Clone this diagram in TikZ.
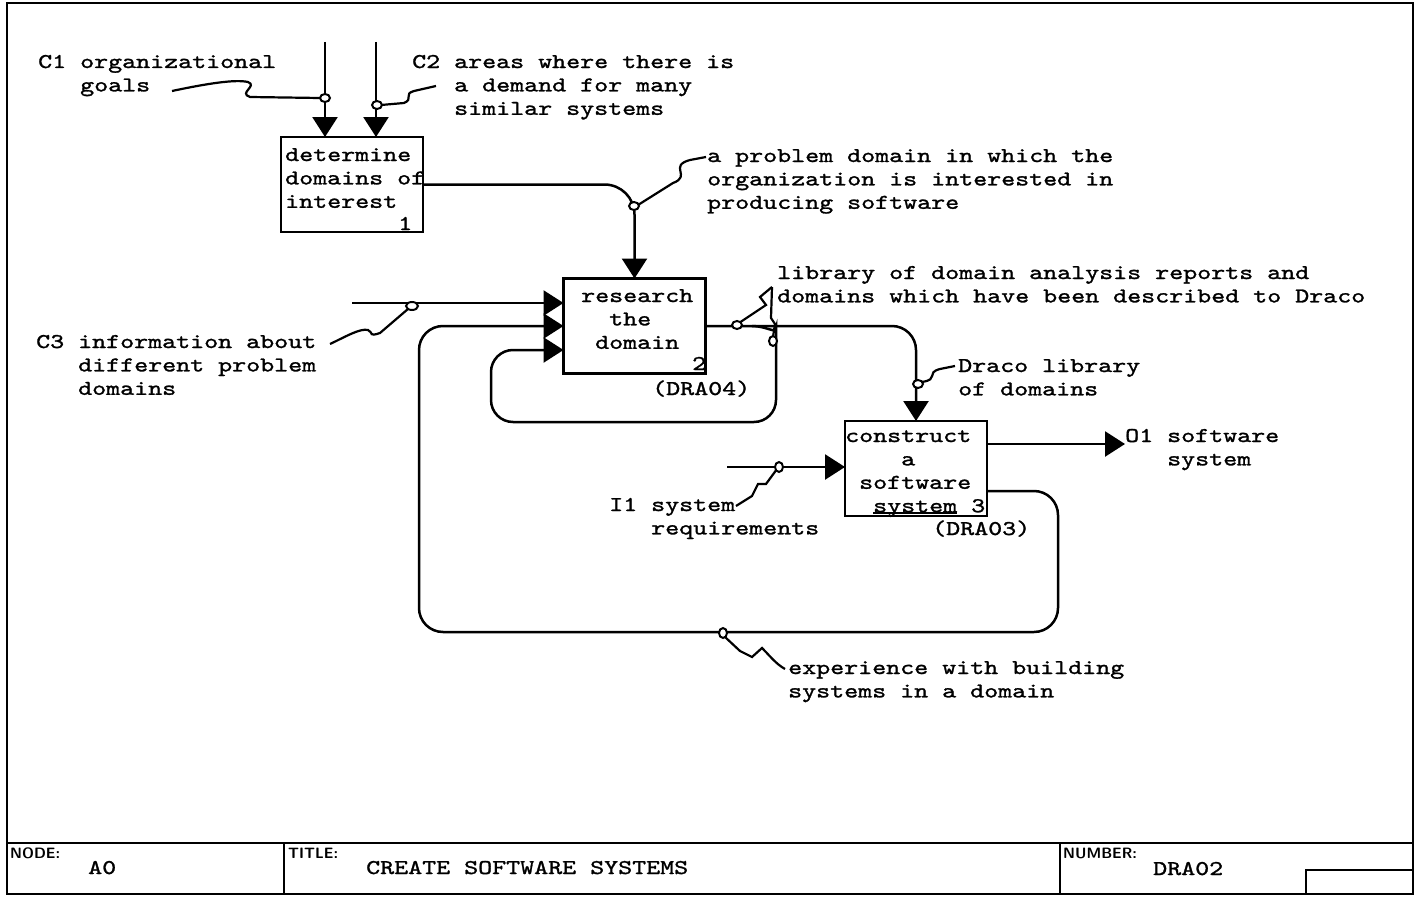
\documentclass[tikz,border=0pt]{standalone}
\usepackage{fontspec}
\usetikzlibrary{arrows.meta,calc}
\newfontfamily\twfam{lmmono10-regular.otf}[FakeStretch=1.27,FakeBold=1.3]
\newcommand\tw{\fontsize{21}{23.4}\selectfont\twfam}
\newcommand\tagfont{\fontsize{15}{15}\selectfont\sffamily\bfseries}
\newcommand\ulsys{\rlap{\rule[-1.5pt]{84pt}{1.6pt}}system}
\tikzset{
  frame/.style={line width=2pt},
  box/.style={draw, line width=2.5pt, minimum width=142pt, minimum height=95pt, inner sep=0pt, outer sep=0pt},
  flow/.style={line width=2.5pt, -{Triangle[length=20pt,width=25pt]}},
  plain/.style={line width=2.5pt},
  squig/.style={line width=2.2pt},
  ring/.style={line width=2pt, fill=white},
  lbl/.style={font=\tw, inner sep=0pt, anchor=base west, align=left},
  tagl/.style={font=\tagfont, inner sep=0pt, anchor=base west},
  num/.style={font=\tw, inner sep=0pt, anchor=base west},
}
\begin{document}
\begin{tikzpicture}[x=1pt,y=-1pt]
\fill[white] (0,0) rectangle (1417,899);
\useasboundingbox (0,0) rectangle (1417,899);
% frame and title block
\draw[frame] (7,3) rectangle (1413,894);
\draw[frame] (7,843) -- (1413,843);
\draw[frame] (284,843) -- (284,894);
\draw[frame] (1060,843) -- (1060,894);
\draw[frame] (1306,894) -- (1306,870) -- (1413,870);
\node[tagl] (tnode) at (10,858) {NODE:};
\node[lbl] (tnodev) at (88,874) {A0};
\node[tagl] (ttitle) at (288,858) {TITLE:};
\node[lbl] (ttitlev) at (366,874) {CREATE SOFTWARE SYSTEMS};
\node[tagl] (tnum) at (1063,858) {NUMBER:};
\node[lbl] (tnumv) at (1153,875) {DRA02};

% boxes
\node[box] (b1) at (352,184.5) {};
\node[box] (b2) at (634.5,326) {};
\node[box] (b3) at (916,468.5) {};
\node[lbl] (b1t) at (285,207.8) {determine\\domains of\\interest};
\node[num] (b1n) at (398,230) {1};
\node[lbl] (b2t) at (581,348.8) {research\\\phantom{cc}the\\\phantom{c}domain};
\node[num] (b2n) at (692,370) {2};
\node[lbl] (b2c) at (652,395) {(DRA04)};
\node[lbl] (b3t) at (845,512.2) {construct\\\phantom{cccc}a\\\phantom{c}software\\\phantom{cc}\ulsys{} 3};
\node[lbl] (b3c) at (932,535) {(DRA03)};

% coordinates
\coordinate (c1s) at (325,42);
\coordinate (c2s) at (376,42);
\coordinate (c3s) at (352,303);
\coordinate (i1s) at (727,467);
\coordinate (o1e) at (1125,444);
\coordinate (b2i1) at ($(b2.west)+(0,-23)$);
\coordinate (b2i3) at ($(b2.west)+(0,24)$);
\coordinate (b3o1) at ($(b3.east)+(0,-24.5)$);
\coordinate (b3o2) at ($(b3.east)+(0,22.5)$);

% flows
\draw[flow] (c1s) -- (c1s |- b1.north);
\draw[flow] (c2s) -- (c2s |- b1.north);
\draw[flow, rounded corners=30pt] (b1.east) -- (b1.east -| b2.north) -- (b2.north);
\draw[flow] (c3s) -- (b2i1);
\draw[flow, rounded corners=24pt] (b3o2) -- (1058,491) -- (1058,632) -- (419,632) -- (419,326) -- (b2.west);
\draw[flow, rounded corners=22pt] (752,326) .. controls (766,326) and (776,334) .. (776,350) -- (776,422) -- (491,422) -- (491,350) -- (b2i3);
\draw[flow, rounded corners=24pt] (b2.east) -- (b2.east -| b3.north) -- (b3.north);
\draw[flow] (i1s) -- (i1s -| b3.west);
\draw[flow] (b3o1) -- (o1e);

% labels
\node[lbl] (c1l) at (38,91.4) {C1 organizational\\\phantom{C1~}goals};
\node[lbl] (c2l) at (412,114.8) {C2 areas where there is\\\phantom{C2~}a demand for many\\\phantom{C2~}similar systems};
\node[lbl] (pdl) at (707,208.8) {a problem domain in which the\\organization is interested in\\producing software};
\node[lbl] (libl) at (777,302.4) {library of domain analysis reports and\\domains which have been described to Draco};
\node[lbl] (c3l) at (36,394.8) {C3 information about\\\phantom{C3~}different problem\\\phantom{C3~}domains};
\node[lbl] (drl) at (958,395.4) {Draco library\\of domains};
\node[lbl] (o1l) at (1125,465.4) {O1 software\\\phantom{O1~}system};
\node[lbl] (i1l) at (609,534.4) {I1 system\\\phantom{I1~}requirements};
\node[lbl] (exl) at (788,697.4) {experience with building\\systems in a domain};

% squiggles
\draw[squig] (172,91) .. controls (205,84) and (235,79) .. (248,82) .. controls (258,86) and (238,93) .. (250,97) -- (320,98);
\draw[squig] (436,86) -- (414,91) .. controls (403,94) and (414,99) .. (404,103) -- (381,105);
\draw[squig] (706,157) -- (690,160) .. controls (668,166) and (692,176) .. (673,183) -- (638,205);
\draw[squig] (330,344) .. controls (345,337) and (360,328) .. (368,330) .. controls (374,333) and (368,337) .. (380,333) -- (408,309);
\draw[squig] (772,287) -- (760,297) -- (766,305) -- (739,323);
\draw[squig] (772,287) -- (771,318) -- (775,324) -- (773,337);
\draw[squig] (955,366) -- (940,369) .. controls (925,373) and (940,379) .. (922,382);
\draw[squig] (736,506) -- (752,496) -- (758,484) -- (766,484) -- (777,469);
\draw[squig] (725,637) -- (740,651) -- (752,657) -- (762,648) .. controls (770,656) and (776,664) .. (785,669);

% rings
\draw[ring] (325,98) ellipse (5pt and 4pt);
\draw[ring] (377,105) ellipse (5pt and 4pt);
\draw[ring] (634,206) ellipse (5pt and 4pt);
\draw[ring] (412,306) ellipse (6pt and 4pt);
\draw[ring] (737,325) ellipse (5pt and 4pt);
\draw[ring] (773,341) ellipse (4pt and 5pt);
\draw[ring] (918,384) ellipse (5pt and 4pt);
\draw[ring] (779,467) ellipse (4pt and 5pt);
\draw[ring] (723,633) ellipse (4pt and 5pt);
\end{tikzpicture}
\end{document}
